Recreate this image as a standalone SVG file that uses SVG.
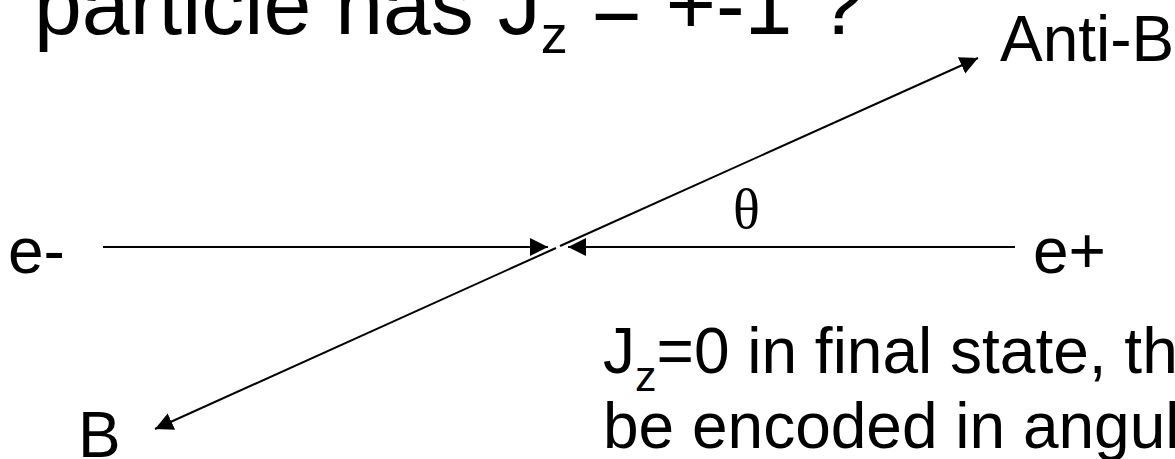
<svg xmlns="http://www.w3.org/2000/svg" width="1175" height="459" viewBox="0 0 1175 459">
<defs>
<style>
.t{font-family:"Liberation Sans",Arial,sans-serif;fill:#000}
.c{stroke:#000;stroke-width:2;fill:none;marker-end:url(#ah)}
</style>
<marker id="ah" markerUnits="userSpaceOnUse" markerWidth="20" markerHeight="20" refX="18" refY="9" orient="auto" viewBox="0 0 20 20">
<path d="M0,0 L18,9 L0,18 z" fill="#000"/>
</marker>
</defs>
<rect width="1175" height="459" fill="#fff"/>
<g id="title">
<text class="t" x="34" y="34" font-size="86">particle has J<tspan font-size="54" dy="19">z</tspan><tspan dy="-19"> = +-1 ?</tspan></text>
</g>
<g id="anti-b"><text class="t" x="1000" y="61" font-size="64">Anti-B</text></g>
<g id="e-minus"><text class="t" x="8" y="273" font-size="64">e-</text></g>
<g id="e-plus"><text class="t" x="1033" y="273" font-size="64">e+</text></g>
<g id="b"><text class="t" x="78" y="457" font-size="64">B</text></g>
<g id="theta"><text x="733" y="228" font-family="'Liberation Serif','Times New Roman',serif" font-size="56">θ</text></g>
<g id="note">
<text class="t" x="603" y="373" font-size="64">J<tspan font-size="43" dy="18">z</tspan><tspan dy="-18">=0 in final state, th</tspan></text>
<text class="t" x="603" y="448" font-size="64">be encoded in angul</text>
</g>
<g id="connectors">
<line class="c" x1="103" y1="247" x2="548" y2="247"/>
<line class="c" x1="1015" y1="247" x2="568" y2="247"/>
<line class="c" x1="560" y1="246" x2="978" y2="58"/>
<line class="c" x1="556" y1="248" x2="155" y2="429"/>
</g>
</svg>
